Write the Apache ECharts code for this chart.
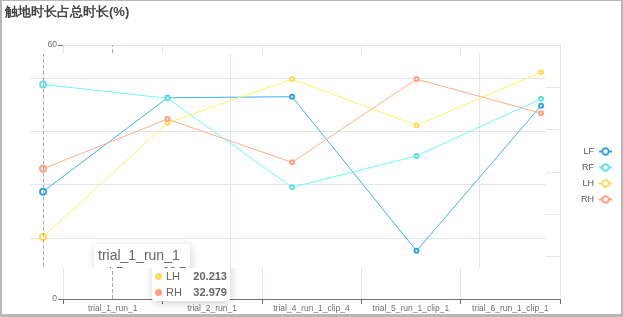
<!DOCTYPE html>
<html><head><meta charset="utf-8">
<script src="https://cdn.jsdelivr.net/npm/echarts@6/dist/echarts.min.js"></script>
<style>
html,body{margin:0;padding:0;background:#fff;}
#wrap{position:relative;width:623px;height:317px;overflow:hidden;background:#fff;}
#chartB{position:absolute;left:0;top:0;width:623px;height:317px;z-index:0;}
#clip{position:absolute;left:30px;top:54px;width:516px;height:214px;overflow:hidden;background:#fff;z-index:1;}
#chartA{position:absolute;left:-130px;top:-100px;width:900px;height:500px;}
#frame{position:absolute;left:0;top:0;width:623px;height:317px;box-sizing:border-box;border-style:solid;border-color:#b8b8b8;border-width:1px 2px 3px 2px;z-index:2;pointer-events:none;}
</style></head>
<body><div id="wrap"><div id="chartB"></div><div id="clip"><div id="chartA"></div></div><div id="frame"></div></div>
<script>
const title = '触地时长占总时长(%)';
const categories = ['trial_1_run_1','trial_2_run_1','trial_4_run_1_clip_4','trial_5_run_1_clip_1','trial_6_run_1_clip_1'];
const seriesNames = ['LF','RF','LH','RH'];
const LF = [28.7, 46.3, 46.5, 17.6, 44.8];
const RF = [48.8, 46.2, 29.5, 35.4, 46.1];
const LH = [20.213, 41.6, 49.8, 41.1, 51.1];
const RH = [32.979, 42.3, 34.2, 49.8, 43.4];
const yMin = 0, yMax = 60, yStep = 10;
const colors = ['#37A2DA','#67E0E3','#FFDB5C','#FF9F7F'];
const values = [LF, RF, LH, RH];

function makeSeries(){
  return seriesNames.map((n,i)=>({
    name:n, type:'line', data:values[i], symbol:'emptyCircle', symbolSize:4,
    lineStyle:{width:1}, itemStyle:{color:colors[i]}
  }));
}
function fmt(titleSize, rowSize, rowH){
  return function(params){
    let h = '<div style="font-size:'+titleSize+'px;line-height:16px;height:16px;color:#666;">'+params[0].axisValueLabel+'</div>';
    params.forEach(p=>{
      h += '<div style="font-size:'+rowSize+'px;line-height:'+rowH+'px;height:'+rowH+'px;overflow:hidden;color:#666;white-space:nowrap;">'
        + '<span style="float:right;margin-left:10px;font-weight:bold;color:#666;">'+p.value+'</span>'
        + '<span style="display:inline-block;margin-right:4px;border-radius:50%;width:7px;height:7px;background-color:'+p.color+';"></span>'
        + '<span>'+p.seriesName+'</span></div>';
    });
    return h;
  };
}
const axisColor = '#6E7079', splitColor = '#E0E6F1';

// Layer B (full page)
const chartB = echarts.init(document.getElementById('chartB'));
chartB.setOption({
  animation:false, color:colors,
  title:{text:title, left:5, top:6, padding:0, textStyle:{fontSize:13, fontWeight:'bold', color:'#444'}},
  legend:{data:seriesNames, orient:'vertical', right:5, top:142, align:'right', itemWidth:13, itemHeight:8, itemGap:7,
    textStyle:{fontSize:9, color:'#555'}},
  grid:{left:63, right:63, top:45, bottom:18, containLabel:false},
  tooltip:{trigger:'axis', triggerOn:'none', alwaysShowContent:true, transitionDuration:0,
    position:[152,217], padding:[3,3,1,3], borderWidth:0, backgroundColor:'#fff',
    extraCssText:'width:72px;box-shadow:1px 2px 8px rgba(0,0,0,0.18);border-radius:3px;',
    axisPointer:{type:'line', lineStyle:{color:'#aaa', type:'dashed', width:1}},
    formatter:fmt(11, 11, 16)},
  xAxis:{type:'category', data:categories, boundaryGap:true,
    axisLine:{lineStyle:{color:axisColor}}, axisTick:{show:true, lineStyle:{color:axisColor}},
    axisLabel:{fontSize:8.5, color:axisColor, margin:5, interval:0},
    splitLine:{show:true, lineStyle:{color:splitColor}}},
  yAxis:{type:'value', min:yMin, max:yMax, interval:yStep,
    axisLine:{show:false}, axisTick:{show:true, length:5, lineStyle:{color:axisColor}},
    axisLabel:{fontSize:8.5, color:axisColor, margin:6},
    splitLine:{show:true, lineStyle:{color:splitColor}}},
  series:makeSeries()
});

// Layer A (shifted, clipped overlay)
const chartA = echarts.init(document.getElementById('chartA'));
chartA.setOption({
  animation:false, color:colors,
  grid:{left:80.75, top:70.7, width:622.5, height:320, containLabel:false},
  tooltip:{trigger:'axis', triggerOn:'none', alwaysShowContent:true, transitionDuration:0,
    position:[194,290], padding:[3,4,4,4], borderWidth:0, backgroundColor:'#fff',
    extraCssText:'width:88px;box-shadow:1px 2px 8px rgba(0,0,0,0.18);border-radius:3px;',
    axisPointer:{type:'line', lineStyle:{color:'#aaa', type:'dashed', width:1}},
    formatter:fmt(14, 12, 18)},
  xAxis:{type:'category', data:categories, boundaryGap:true,
    axisLine:{show:false}, axisTick:{show:false}, axisLabel:{show:false},
    splitLine:{show:true, lineStyle:{color:splitColor}}},
  yAxis:{type:'value', min:yMin, max:yMax, interval:yStep,
    axisLine:{show:false}, axisTick:{show:false}, axisLabel:{show:false},
    splitLine:{show:true, lineStyle:{color:splitColor}}},
  series:makeSeries()
});

chartB.dispatchAction({type:'showTip', seriesIndex:0, dataIndex:0});
chartA.dispatchAction({type:'showTip', seriesIndex:0, dataIndex:0});
</script>
</body></html>
